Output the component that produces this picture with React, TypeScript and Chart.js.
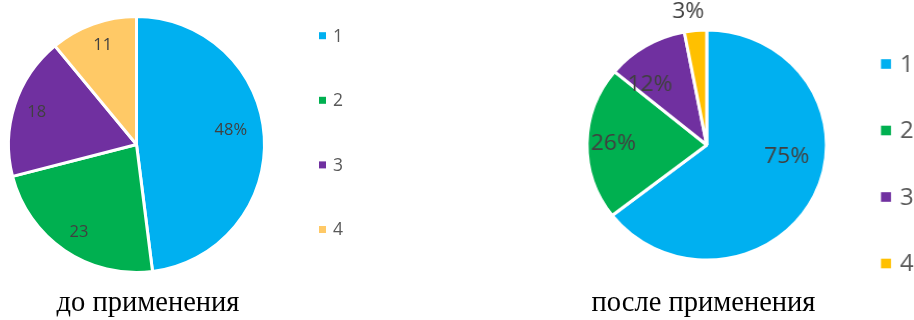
import React, { useEffect, useRef } from "react";
import { Chart, registerables } from "chart.js";

Chart.register(...registerables);

// ---- data ----
const categories = ["1", "2", "3", "4"];
const beforeValues = [48, 23, 18, 11];
const beforeLabels = ["48%", "23", "18", "11"];
const afterValues = [64.5, 21.5, 11, 3];
const afterLabels = ["75%", "26%", "12%", "3%"];
const beforeTitle = "до применения";
const afterTitle = "после применения";

const beforeColors = ["#00B0F0", "#00B050", "#7030A0", "#FFC966"];
const afterColors = ["#00B0F0", "#00B050", "#7030A0", "#FFC000"];

type PieCfg = {
  values: number[];
  labels: string[];
  colors: string[];
  radius: number;
  canvasW: number;
  cssW: number;
  padding: { left: number; right: number; top: number; bottom: number };
  labelFont: number;
  // label placement: angle shift from slice middle (degrees) and fraction of radius
  labelShift: number[];
  labelFrac: number[];
  legend: { x: number; y0: number; step: number; box: number; font: number; gap: number };
};

const labelPlugin = {
  id: "pieLabels",
  afterDatasetsDraw(chart: any, _args: any, opts: any) {
    const ctx = chart.ctx;
    const meta = chart.getDatasetMeta(0);
    ctx.save();
    ctx.font = `${opts.font}px "Open Sans"`;
    ctx.fillStyle = "#404040";
    ctx.textAlign = "center";
    ctx.textBaseline = "middle";
    meta.data.forEach((arc: any, i: number) => {
      const p = arc.getProps(["x", "y", "startAngle", "endAngle", "outerRadius"], true);
      const mid = (p.startAngle + p.endAngle) / 2 + (opts.shift[i] * Math.PI) / 180;
      const r = p.outerRadius * opts.frac[i];
      ctx.fillText(opts.labels[i], p.x + Math.cos(mid) * r, p.y + Math.sin(mid) * r);
    });
    ctx.restore();
  },
};

const legendPlugin = {
  id: "sideLegend",
  afterDraw(chart: any, _args: any, opts: any) {
    const ctx = chart.ctx;
    const bg = chart.data.datasets[0].backgroundColor as string[];
    ctx.save();
    ctx.font = `${opts.font}px "Open Sans"`;
    ctx.textBaseline = "middle";
    ctx.textAlign = "left";
    (chart.data.labels as string[]).forEach((lab, i) => {
      const cy = opts.y0 + i * opts.step;
      ctx.fillStyle = bg[i];
      ctx.fillRect(opts.x, cy - opts.box / 2, opts.box, opts.box);
      ctx.fillStyle = "#595959";
      ctx.fillText(lab, opts.x + opts.box + opts.gap, cy + 1);
    });
    ctx.restore();
  },
};

function Pie({ cfg }: { cfg: PieCfg }) {
  const ref = useRef<HTMLCanvasElement>(null);
  useEffect(() => {
    const chart = new Chart(ref.current!, {
      type: "pie",
      data: {
        labels: categories,
        datasets: [
          {
            data: cfg.values,
            backgroundColor: cfg.colors,
            borderColor: "#ffffff",
            borderWidth: 3,
            radius: cfg.radius,
            clip: false,
          } as any,
        ],
      },
      options: {
        animation: false,
        responsive: false,
        maintainAspectRatio: false,
        layout: { padding: cfg.padding },
        plugins: {
          legend: { display: false },
          tooltip: { enabled: false },
          pieLabels: { labels: cfg.labels, font: cfg.labelFont, shift: cfg.labelShift, frac: cfg.labelFrac },
          sideLegend: cfg.legend,
        } as any,
      },
      plugins: [labelPlugin, legendPlugin],
    });
    return () => chart.destroy();
  }, []);
  return (
    <canvas
      ref={ref}
      width={cfg.canvasW}
      height={290}
      style={{ display: "block", width: cfg.cssW, height: 290 }}
    />
  );
}

const leftCfg: PieCfg = {
  values: beforeValues,
  labels: beforeLabels,
  colors: beforeColors,
  radius: 128,
  canvasW: 457,
  cssW: 457,
  padding: { left: 0, right: 184, top: 0, bottom: 1 },
  labelFont: 16.5,
  labelShift: [-5, -1, 0, 1],
  labelFrac: [0.745, 0.82, 0.82, 0.82],
  legend: { x: 319, y0: 35.7, step: 64.6, box: 7, font: 17.5, gap: 7 },
};

const rightCfg: PieCfg = {
  values: afterValues,
  labels: afterLabels,
  colors: afterColors,
  radius: 115,
  canvasW: 439,
  cssW: 457,
  padding: { left: 100, right: 59.2, top: 0, bottom: -7 },
  labelFont: 22,
  labelShift: [-17.6, 0.2, -11.6, -2.2],
  labelFrac: [0.675, 0.78, 0.706, 1.17],
  legend: { x: 407.3, y0: 64, step: 66.5, box: 9.6, font: 23, gap: 8.5 },
};

export default function App() {
  useEffect(() => {
    document.body.style.margin = "0";
  }, []);
  const cap: React.CSSProperties = {
    position: "absolute",
    top: 286,
    fontFamily: '"Liberation Serif", "Times New Roman", serif',
    fontSize: 28.5,
    color: "#000",
    whiteSpace: "nowrap",
    transform: "translateX(-50%)",
    lineHeight: "32px",
  };
  return (
    <div style={{ position: "relative", width: 914, height: 320, overflow: "hidden", background: "#fff" }}>
      <div style={{ position: "absolute", left: 0, top: 0 }}>
        <Pie cfg={leftCfg} />
      </div>
      <div style={{ position: "absolute", left: 457, top: 0 }}>
        <Pie cfg={rightCfg} />
      </div>
      <div style={{ ...cap, left: 148 }}>{beforeTitle}</div>
      <div style={{ ...cap, left: 703.5 }}>{afterTitle}</div>
    </div>
  );
}
